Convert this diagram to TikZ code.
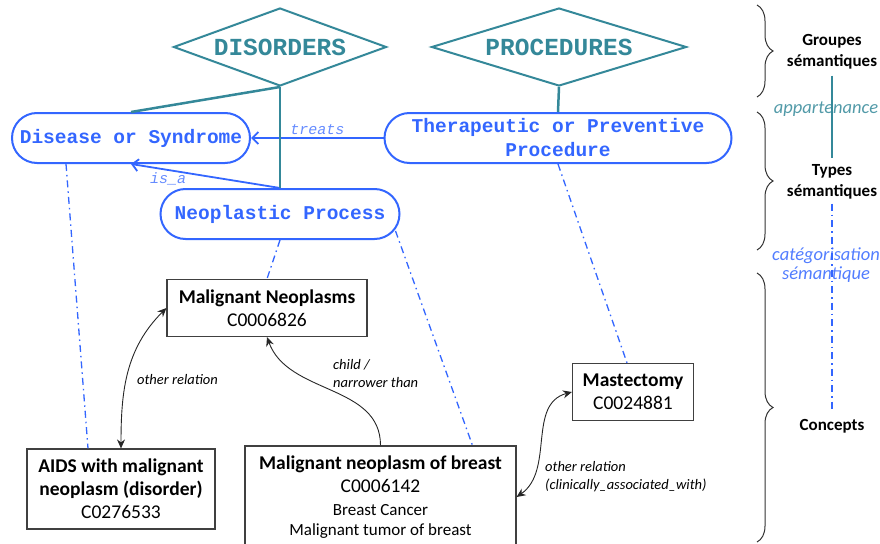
\documentclass[tikz,border=0pt]{standalone}
\usepackage{fontspec}
\usetikzlibrary{shapes.geometric,arrows.meta,decorations.pathreplacing}

\newfontfamily\carl{Carlito}
\newfontfamily\mono{Liberation Mono}

\definecolor{semteal}{RGB}{52,136,153}
\definecolor{semblue}{RGB}{51,102,255}

\tikzset{
  group/.style={diamond, draw=semteal, line width=2pt, text=semteal, inner sep=0pt,
    minimum height=78pt, font=\mono\bfseries\fontsize{24.5}{28}\selectfont},
  semtype/.style={rectangle, rounded corners=25pt, draw=semblue, line width=2pt, text=semblue,
    inner sep=0pt, minimum height=50pt, align=center, font=\mono\bfseries\fontsize{19.5}{24}\selectfont},
  concept/.style={draw=black!75, line width=1.2pt, fill=white, inner sep=0pt, align=center,
    font=\carl\fontsize{19.5}{23}\selectfont},
  member/.style={draw=semteal, line width=2.5pt},
  cat/.style={draw=semblue, line width=1.3pt, dash pattern=on 7pt off 4pt on 1.5pt off 4pt},
  link/.style={-{Straight Barb[length=6pt,width=12pt]}, draw=semblue, line width=1.8pt},
  linklbl/.style={text=semblue!75, font=\mono\itshape\fontsize{15}{17}\selectfont, inner sep=2pt},
  rel/.style={>={Stealth[length=9pt,width=8pt,inset=3pt]}, draw=black!85, line width=0.9pt},
  rellbl/.style={font=\carl\itshape\fontsize{14.5}{18}\selectfont, align=left, inner sep=0pt},
  tier/.style={font=\carl\bfseries\fontsize{17}{21}\selectfont, align=center, inner sep=0pt},
  brc/.style={decorate, decoration={brace, amplitude=16pt}, draw=black!80, line width=1pt}
}

\begin{document}
\begin{tikzpicture}[x=1pt,y=-1pt]
    \useasboundingbox (0,0) rectangle (880,543);
    \clip (0,0) rectangle (880,543);

    % groupes semantiques
    \node[group, minimum width=213pt, aspect=2.73] (dis) at (280,47) {DISORDERS};
    \node[group, minimum width=255pt, aspect=3.27] (proc) at (559,47) {PROCEDURES};

    % types semantiques
    \node[semtype, minimum width=238pt] (dsyn) at (131,138) {Disease or Syndrome};
    \node[semtype, minimum width=239pt] (neop) at (280,214) {Neoplastic Process};
    \node[semtype, minimum width=347pt] (topp) at (558,138) {Therapeutic or Preventive\\Procedure};

    % concepts
    \node[concept, minimum width=200pt, minimum height=57pt] (mn) at (267,308)
        {\textbf{Malignant Neoplasms}\\C0006826};
    \node[concept, minimum width=188pt, minimum height=80pt] (aids) at (121,489)
        {\textbf{AIDS with malignant}\\\textbf{neoplasm (disorder)}\\C0276533};
    \node[concept, minimum width=121pt, minimum height=57pt] (mast) at (633,392)
        {\textbf{Mastectomy}\\C0024881};
    \node[concept, minimum width=271pt, minimum height=102pt] (brst) at (380.5,497)
        {\textbf{Malignant neoplasm of breast}\\C0006142\\{\fontsize{17}{20}\selectfont Breast Cancer}\\[-3pt]{\fontsize{17}{20}\selectfont Malignant tumor of breast}};

    \draw[link] (topp.west) -- (dsyn.east) node[linklbl, midway, above] (trt) {treats};
    \draw[link] (neop.north) -- (dsyn.south) node[linklbl, pos=0.75, below] (isa) {is\_a};

    \draw[member] (dis.south) -- (dsyn.north);
    \draw[member] (dis.south) -- (neop.north);
    \draw[member] (proc.south) -- (topp.north);

    \draw[cat] ([xshift=-65pt]dsyn.south) -- ([xshift=-33pt]aids.north);
    \draw[cat] (neop.south) -- (mn.north);
    \draw[cat] ([xshift=-5pt]neop.-8) -- ([xshift=92pt]brst.north);
    \draw[cat] (topp.south) -- ([xshift=-6pt]mast.north);

    % relations entre concepts
    \draw[rel, <->] (aids.north) to[out=90, in=225] (mn.west);
    \node[rellbl, anchor=west] (orel) at (137,380) {other relation};
    \draw[rel, ->] (brst.north) to[out=90, in=-70] (mn.south);
    \node[rellbl, anchor=west] (chld) at (333,374) {child /\\narrower than};
    \draw[rel, <->] (brst.east) to[out=35, in=195] (mast.west);
    \node[rellbl, anchor=west] (clin) at (545,477) {other relation\\(clinically\_associated\_with)};

    % niveaux
    \foreach \a/\b in {5/97,112/250,273/542}
        \draw[brc] (757,\a) -- (757,\b);
    \node[tier] (grp) at (832,52) {Groupes\\sémantiques};
    \node[tier] (typ) at (832,182) {Types\\sémantiques};
    \node[tier] (cpt) at (832,426) {Concepts};
    \node[text=semteal!85, font=\carl\itshape\fontsize{18.5}{20}\selectfont] (app) at (826,109) {appartenance};
    \node[text=semblue!85, font=\carl\itshape\fontsize{18.5}{18.5}\selectfont, align=center, inner sep=0pt] (catg) at (826,265)
        {catégorisation\\sémantique};
    \draw[member] ([yshift=-6pt]grp.south) -- ([yshift=6pt]typ.north);
    \draw[cat] ([yshift=-4pt]typ.south) -- ([yshift=7pt]cpt.north);
\end{tikzpicture}
\end{document}
